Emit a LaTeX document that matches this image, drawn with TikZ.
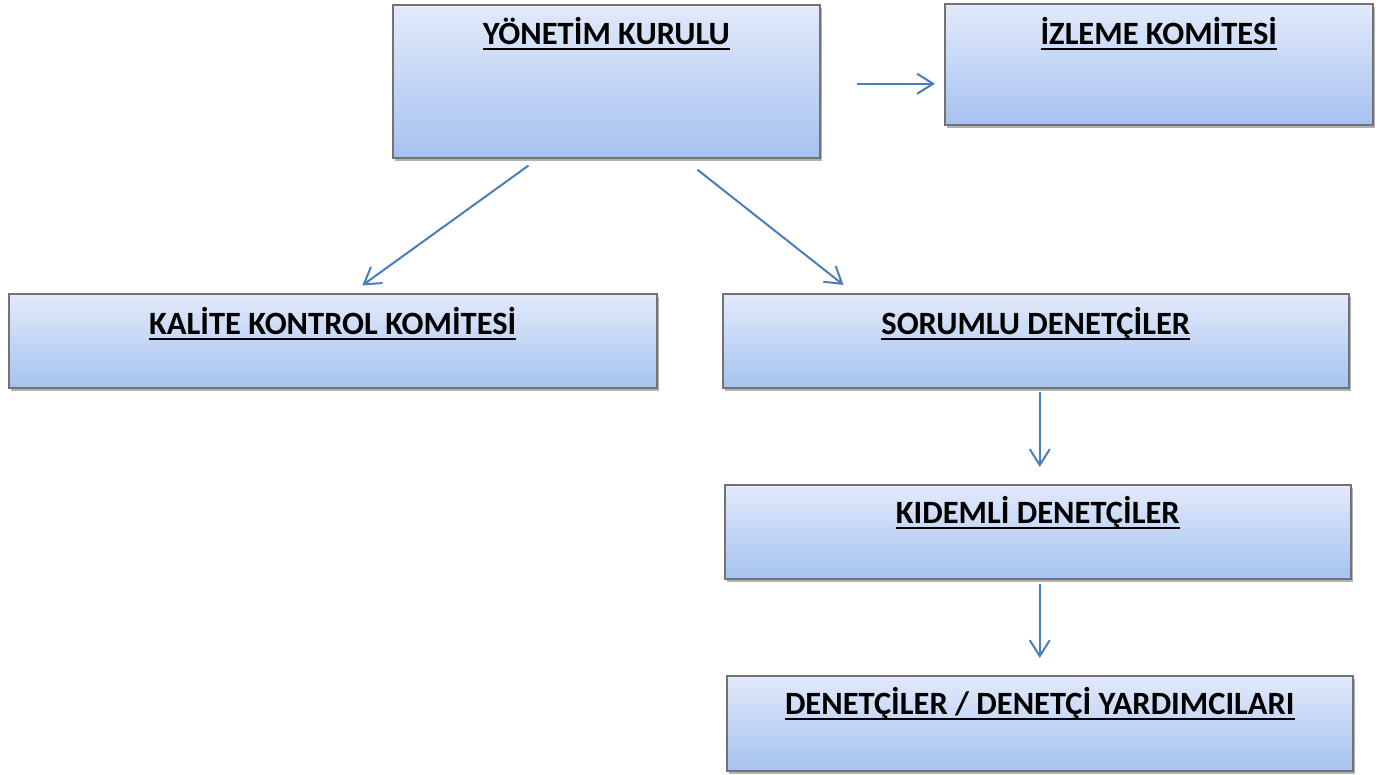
\documentclass[tikz,border=0pt]{standalone}
\usepackage{fontspec}
\setmainfont{Carlito}
\usetikzlibrary{arrows.meta,shadows,positioning}
\definecolor{kutuust}{RGB}{226,234,250}
\definecolor{kutualt}{RGB}{166,194,240}
\definecolor{kenar}{RGB}{115,115,115}
\definecolor{okmavi}{RGB}{74,126,187}
\newcommand\altcizgi[1]{\setbox0\hbox{#1}\rlap{\copy0}\rule[-6pt]{\wd0}{2.2pt}}
\tikzset{
  kutu/.style={draw=kenar, line width=1.5pt, top color=kutuust, bottom color=kutualt,
    drop shadow={shadow xshift=2pt, shadow yshift=-3pt, opacity=0.3, fill=black},
    anchor=north west, inner sep=0pt},
  baslik/.style={anchor=base, inner sep=0pt, font=\bfseries\fontsize{32.5}{39}\selectfont},
  ok/.style={draw=okmavi, line width=2pt, -{Straight Barb[length=16pt,width=20pt,line width=2pt]}}
}
\begin{document}
\begin{tikzpicture}[x=1pt,y=-1pt]
\useasboundingbox (0,0) rectangle (1386,774);
% kutular
\node[kutu, minimum width=427pt, minimum height=153pt] (yk) at (392,4) {};
\node[kutu, minimum width=428pt, minimum height=121pt] (iz) at (944,3) {};
\node[kutu, minimum width=648pt, minimum height=94pt] (kk) at (8,293) {};
\node[kutu, minimum width=626pt, minimum height=94pt] (sd) at (722,293) {};
\node[kutu, minimum width=626pt, minimum height=94pt] (kd) at (724,484) {};
\node[kutu, minimum width=626pt, minimum height=95pt] (dy) at (726,675) {};
% basliklar
\node[baslik] (yk-t) at ([yshift=-40pt]yk.north) {\altcizgi{YÖNETİM KURULU}};
\node[baslik] (iz-t) at ([yshift=-41pt]iz.north) {\altcizgi{İZLEME KOMİTESİ}};
\node[baslik] (kk-t) at ([yshift=-41pt]kk.north) {\altcizgi{KALİTE KONTROL KOMİTESİ}};
\node[baslik] (sd-t) at ([yshift=-41pt]sd.north) {\altcizgi{SORUMLU DENETÇİLER}};
\node[baslik] (kd-t) at ([yshift=-39pt]kd.north) {\altcizgi{KIDEMLİ DENETÇİLER}};
\node[baslik] (dy-t) at ([yshift=-39pt]dy.north) {\altcizgi{DENETÇİLER / DENETÇİ YARDIMCILARI}};
% oklar
\draw[ok, shorten <=36pt, shorten >=9pt] ([yshift=-2.5pt]yk.east) -- ([yshift=-2.5pt]yk.east -| iz.west);
\draw[ok, shorten <=12pt, shorten >=13pt] ([xshift=-68pt]yk.south) -- ([xshift=19pt]kk.north);
\draw[ok, shorten <=18pt, shorten >=13pt] ([xshift=77pt]yk.south) -- ([xshift=-182pt]sd.north);
\draw[ok, shorten <=3pt, shorten >=17pt] ([xshift=4pt]sd.south) -- ([xshift=4pt]sd.south |- kd.north);
\draw[ok, shorten <=4pt, shorten >=17pt] ([xshift=2pt]kd.south) -- ([xshift=2pt]kd.south |- dy.north);
\end{tikzpicture}
\end{document}
